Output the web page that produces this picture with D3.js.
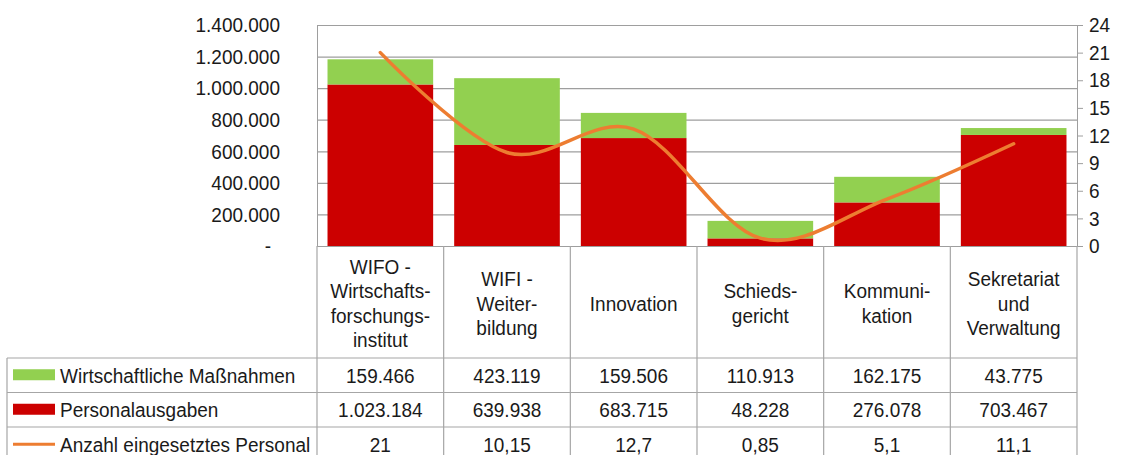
<!DOCTYPE html>
<html>
<head>
<meta charset="utf-8">
<script src="https://cdn.jsdelivr.net/npm/d3@7"></script>
<style>
  body { margin:0; background:#fff; }
  svg text { font-family:"Liberation Sans", Arial, sans-serif; fill:#1a1a1a; }
</style>
</head>
<body>
<div id="canvas"></div>
<script>
// data
var categories = [
  ['WIFO -','Wirtschafts-','forschungs-','institut'],
  ['WIFI -','Weiter-','bildung'],
  ['Innovation'],
  ['Schieds-','gericht'],
  ['Kommuni-','kation'],
  ['Sekretariat','und','Verwaltung']
];
var wirtschaft = [159466, 423119, 159506, 110913, 162175, 43775];
var personal   = [1023184, 639938, 683715, 48228, 276078, 703467];
var anzahl     = [21, 10.15, 12.7, 0.85, 5.1, 11.1];
var leftTicks  = [0, 200000, 400000, 600000, 800000, 1000000, 1200000, 1400000];
var rightTicks = [0, 3, 6, 9, 12, 15, 18, 21, 24];
var seriesNames = ['Wirtschaftliche Maßnahmen', 'Personalausgaben', 'Anzahl eingesetztes Personal'];

var W = 1122, H = 455;
var m = {t:25, l:317, r:45};
var plotBottom = 246;
var w = W - m.l - m.r;
var fs = 21;
var sx = 0.905;   // text in the original is a bit condensed

var de = d3.formatLocale({decimal:',', thousands:'.', grouping:[3], currency:['','']});
var fmtInt = de.format(',');
var fmtNum = de.format(',~g');

var svg = d3.select('#canvas').append('svg')
  .attr('width', W).attr('height', H);

var x = d3.scaleBand().domain(d3.range(categories.length)).range([m.l, m.l + w]).paddingInner(0.166).paddingOuter(0.083);
var xCol = d3.scaleBand().domain(d3.range(categories.length)).range([m.l, m.l + w]);
var yL = d3.scaleLinear().domain([0, 1400000]).range([plotBottom, m.t]);
var yR = d3.scaleLinear().domain([0, 24]).range([plotBottom, m.t]);

var grid = '#9e9e9e';

// squeeze axis labels horizontally around their anchor
function squeeze(sel){
  sel.each(function(){
    var t = d3.select(this);
    var xx = +t.attr('x') || 0;
    t.attr('x', 0).attr('transform', 'translate(' + xx + ',0) scale(' + sx + ',1)');
  });
}

// draw a (multi-line) label at x,y
function label(parent, xx, yy, anchor, lines, lh){
  var t = parent.append('text')
    .attr('transform', 'translate(' + xx + ',' + yy + ') scale(' + sx + ',1)')
    .attr('text-anchor', anchor).attr('font-size', fs);
  lines.forEach(function(s, k){
    t.append('tspan').attr('x', 0)
      .attr('y', (k - (lines.length - 1)/2) * (lh || 0))
      .attr('dy', '0.36em').text(s);
  });
  return t;
}

// gridlines + left labels
var axL = d3.axisLeft(yL).tickValues(leftTicks).tickSize(-w)
  .tickFormat(function(d){ return d === 0 ? '-' : fmtInt(d); });
var gL = svg.append('g').attr('transform','translate(' + m.l + ',0)').call(axL);
gL.select('.domain').attr('stroke', grid);
gL.selectAll('.tick line').attr('stroke', grid).attr('stroke-width', 1.2);
gL.selectAll('.tick text').attr('font-size', fs).attr('x', -37).attr('fill','#1a1a1a');
gL.selectAll('.tick').filter(function(d){ return d === 0; }).select('text').attr('x', -46);
squeeze(gL.selectAll('.tick text'));

// right axis
var axR = d3.axisRight(yR).tickValues(rightTicks).tickSize(6).tickPadding(6);
var gR = svg.append('g').attr('transform','translate(' + (m.l + w) + ',0)').call(axR);
gR.select('.domain').attr('stroke', grid);
gR.selectAll('.tick line').attr('stroke', grid);
gR.selectAll('.tick text').attr('font-size', fs).attr('fill','#1a1a1a');
squeeze(gR.selectAll('.tick text'));

// bars
var bars = svg.append('g');
bars.selectAll('.pers').data(personal).enter().append('rect')
  .attr('x', function(d,i){ return x(i); })
  .attr('width', x.bandwidth())
  .attr('y', function(d){ return yL(d); })
  .attr('height', function(d){ return plotBottom - yL(d); })
  .attr('fill', '#cc0000');
bars.selectAll('.wirt').data(wirtschaft).enter().append('rect')
  .attr('x', function(d,i){ return x(i); })
  .attr('width', x.bandwidth())
  .attr('y', function(d,i){ return yL(d + personal[i]); })
  .attr('height', function(d){ return plotBottom - yL(d); })
  .attr('fill', '#92d050');

// line
var line = d3.line()
  .x(function(d,i){ return xCol(i) + xCol.bandwidth()/2; })
  .y(function(d){ return yR(d); })
  .curve(d3.curveCardinal.tension(0));
svg.append('path').datum(anzahl)
  .attr('d', line).attr('fill','none')
  .attr('stroke','#ed7d31').attr('stroke-width',3.5).attr('stroke-linecap','round');

// data table
var tbl = svg.append('g');
var rowTop = 358, rowH = 34.5, tblLeft = 7;
var tLine = '#a6a6a6';
xCol.domain().concat([categories.length]).forEach(function(i){
  var xx = i < categories.length ? xCol(i) : m.l + w;
  tbl.append('line').attr('x1', xx).attr('x2', xx).attr('y1', plotBottom).attr('y2', H + 10)
    .attr('stroke', tLine).attr('stroke-width', 1.2);
});
[0,1,2,3].forEach(function(r){
  tbl.append('line').attr('x1', tblLeft).attr('x2', m.l + w)
    .attr('y1', rowTop + r*rowH).attr('y2', rowTop + r*rowH)
    .attr('stroke', tLine).attr('stroke-width', 1.2);
});
tbl.append('line').attr('x1', tblLeft).attr('x2', tblLeft).attr('y1', rowTop).attr('y2', H + 10)
  .attr('stroke', tLine).attr('stroke-width', 1.2);

// category labels
categories.forEach(function(lines, i){
  label(tbl, xCol(i) + xCol.bandwidth()/2, (plotBottom + rowTop)/2 + 1, 'middle', lines, 24.5);
});

// rows
var rows = [
  {vals: wirtschaft, fmt: fmtInt, color:'#92d050', kind:'rect'},
  {vals: personal, fmt: fmtInt, color:'#cc0000', kind:'rect'},
  {vals: anzahl, fmt: fmtNum, color:'#ed7d31', kind:'line'}
];
rows.forEach(function(r, k){
  var cy = rowTop + k*rowH + rowH/2;
  if (r.kind === 'rect') {
    tbl.append('rect').attr('x', 13).attr('y', cy - 6).attr('width', 42).attr('height', 11).attr('fill', r.color);
  } else {
    tbl.append('line').attr('x1', 13).attr('x2', 55).attr('y1', cy).attr('y2', cy)
      .attr('stroke', r.color).attr('stroke-width', 3);
  }
  label(tbl, 60, cy, 'start', [seriesNames[k]]);
  r.vals.forEach(function(v, i){
    label(tbl, xCol(i) + xCol.bandwidth()/2, cy, 'middle', [r.fmt(v)]);
  });
});
</script>
</body>
</html>
